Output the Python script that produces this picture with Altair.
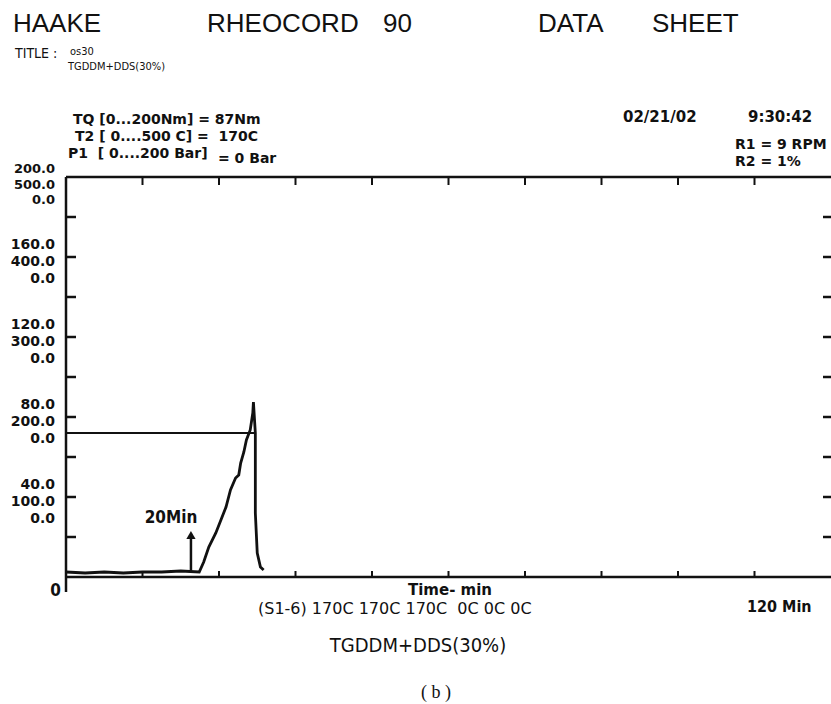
import altair as alt
import pandas as pd

# ---- data ----
time_min = [0, 3, 6, 9, 12, 15, 18, 20.9, 21.6, 22.4, 23.5, 24.3, 25.1, 25.8, 26.6,
            27.1, 27.4, 27.9, 28.3, 28.9, 29.3, 29.4, 29.7, 29.7, 30.0, 30.5, 31.0]
torque_nm = [2.5, 2, 2.5, 2, 2.5, 2.5, 3, 2.5, 7.5, 15, 22, 28.5, 35, 43.5, 49.5,
             51, 57, 62.5, 68.5, 73.5, 82, 87.5, 72, 32, 12, 5, 3.5]
marker_level = 72       # horizontal reference line (Nm)
marker_end = 29.7       # min
arrow_time = 19.6       # "20Min" arrow position (min)
arrow_from, arrow_to = 2.5, 21

tq_labels = ["200.0", "160.0", "120.0", "80.0", "40.0"]
t2_labels = ["500.0", "400.0", "300.0", "200.0", "100.0"]
p1_labels = ["0.0", "0.0", "0.0", "0.0", "0.0"]
label_vals = [200, 160, 120, 80, 40]
y_ticks = [20, 40, 60, 80, 100, 120, 140, 160, 180]
x_ticks = [12, 24, 36, 48, 60, 72, 84, 96, 108]

W, H = 765, 400
XS = alt.Scale(domain=[0, 120], nice=False, zero=False)
YS = alt.Scale(domain=[0, 200], nice=False, zero=False)
NARROW = "'DejaVu Sans Condensed', 'Liberation Sans Narrow', sans-serif"
WIDE = "'DejaVu Sans', sans-serif"
SANS = "'Liberation Sans', Arial, Helvetica, sans-serif"
SERIF = "'Liberation Serif', 'Times New Roman', serif"
NB = "\u00a0"

layers = []

def txt(s, x, y, size, weight="normal", font=NARROW, align="left"):
    return alt.Chart(pd.DataFrame({"t": [s]})).mark_text(
        font=font, fontSize=size, fontWeight=weight, align=align,
        baseline="alphabetic", color="#111"
    ).encode(x=alt.value(x), y=alt.value(y), text="t:N")

# frame
frame = pd.DataFrame({"x0": [0], "x1": [120], "y0": [0], "y1": [200]})
base_f = alt.Chart(frame)
layers.append(base_f.mark_rule(color="#111", strokeWidth=2.5).encode(
    x=alt.X("x0:Q", scale=XS, axis=None), x2="x1:Q", y=alt.Y("y1:Q", scale=YS, axis=None)))
layers.append(base_f.mark_rule(color="#111", strokeWidth=2.5).encode(
    x=alt.X("x0:Q", scale=XS, axis=None), x2="x1:Q", y=alt.Y("y0:Q", scale=YS, axis=None)))
layers.append(base_f.mark_rule(color="#111", strokeWidth=2.5).encode(
    x=alt.X("x0:Q", scale=XS, axis=None), y=alt.Y("y0:Q", scale=YS, axis=None), y2="y1:Q"))
layers.append(base_f.mark_rule(color="#111", strokeWidth=2.5).encode(
    x=alt.X("x0:Q", scale=XS, axis=None), y=alt.value(H), y2=alt.value(H + 15)))

# ticks
yt = alt.Chart(pd.DataFrame({"v": y_ticks}))
layers.append(yt.mark_rule(color="#111", strokeWidth=2.5).encode(
    y=alt.Y("v:Q", scale=YS, axis=None), x=alt.value(0), x2=alt.value(10)))
layers.append(yt.mark_rule(color="#111", strokeWidth=2.5).encode(
    y=alt.Y("v:Q", scale=YS, axis=None), x=alt.value(W - 8), x2=alt.value(W)))
xt = alt.Chart(pd.DataFrame({"v": x_ticks}))
layers.append(xt.mark_rule(color="#111", strokeWidth=2).encode(
    x=alt.X("v:Q", scale=XS, axis=None), y=alt.value(0), y2=alt.value(8)))
layers.append(xt.mark_rule(color="#111", strokeWidth=2).encode(
    x=alt.X("v:Q", scale=XS, axis=None), y=alt.value(H), y2=alt.value(H - 6)))

# y tick label stacks (torque / temperature / pressure)
lab = pd.DataFrame({"v": label_vals, "tq": tq_labels, "t2": t2_labels, "p1": p1_labels})
for col, dys in [("tq", (-8, -12)), ("t2", (7.5, 5)), ("p1", (23, 22))]:
    for sub, dy, fs in [(lab[lab.v == 200], dys[0], 13), (lab[lab.v != 200], dys[1], 14)]:
        layers.append(alt.Chart(sub).mark_text(
            font=WIDE, fontSize=fs, fontWeight="bold", align="right",
            baseline="middle", dy=dy, color="#111"
        ).encode(y=alt.Y("v:Q", scale=YS, axis=None), x=alt.value(-11), text=f"{col}:N"))

# horizontal marker
mk = pd.DataFrame({"a": [0], "b": [marker_end], "y": [marker_level]})
layers.append(alt.Chart(mk).mark_rule(color="#111", strokeWidth=1.8).encode(
    x=alt.X("a:Q", scale=XS, axis=None), x2="b:Q", y=alt.Y("y:Q", scale=YS, axis=None)))

# torque curve
curve = pd.DataFrame({"t": time_min, "tq": torque_nm, "i": range(len(time_min))})
layers.append(alt.Chart(curve).mark_line(color="#111", strokeWidth=2.8).encode(
    x=alt.X("t:Q", scale=XS, axis=None), y=alt.Y("tq:Q", scale=YS, axis=None), order="i:Q"))

# arrow
ar = pd.DataFrame({"x": [arrow_time], "y0": [arrow_from], "y1": [arrow_to]})
layers.append(alt.Chart(ar).mark_rule(color="#111", strokeWidth=2.5).encode(
    x=alt.X("x:Q", scale=XS, axis=None), y=alt.Y("y0:Q", scale=YS, axis=None), y2="y1:Q"))
layers.append(alt.Chart(ar).mark_point(shape="triangle-up", filled=True, color="#111",
                                       size=85, opacity=1).encode(
    x=alt.X("x:Q", scale=XS, axis=None), y=alt.Y("y1:Q", scale=YS, axis=None)))

# header and annotation texts
layers += [
    txt("HAAKE", -53, -145, 26, font=SANS),
    txt("RHEOCORD", 141, -145, 26, font=SANS),
    txt("90", 317, -145, 26, font=SANS),
    txt("DATA", 472, -145, 26, font=SANS),
    txt("SHEET", 586, -145, 26, font=SANS),
    txt("TITLE :", -51, -119, 14),
    txt("os30", 4, -122, 11),
    txt("TGDDM+DDS(30%)", 2, -107, 11),
    txt("TQ [0...200Nm] = 87Nm", 7, -53, 14, "bold", font=WIDE),
    txt("T2 [ 0....500 C] =" + NB + NB + "170C", 9, -36, 14, "bold", font=WIDE),
    txt("P1" + NB + NB + "[ 0....200 Bar]", 2, -19, 14, "bold", font=WIDE),
    txt("= 0 Bar", 152, -14, 14, "bold", font=WIDE),
    txt("02/21/02", 557, -55, 15, "bold", font=WIDE),
    txt("9:30:42", 682, -55, 15, "bold", font=WIDE),
    txt("R1 = 9 RPM", 669, -28, 14, "bold", font=WIDE),
    txt("R2 = 1%", 669, -11, 14, "bold", font=WIDE),
    txt("0", -5, 419, 17, "bold", align="right"),
    txt("20Min", 105, 346, 17, "bold", align="center"),
    txt("Time- min", 384, 418, 15, "bold", font=WIDE, align="center"),
    txt("(S1-6) 170C 170C 170C" + NB + NB + "0C 0C 0C", 192, 437, 16, font=WIDE),
    txt("120 Min", 681, 435, 16, "bold"),
    txt("TGDDM+DDS(30%)", 352, 475, 20, align="center"),
    txt("( b )", 370, 521, 18, font=SERIF, align="center"),
]

chart = alt.layer(*layers).properties(
    width=W, height=H,
    autosize=alt.AutoSizeParams(type="none"),
    padding={"left": 66, "top": 177, "right": 0, "bottom": 127},
    background="white",
).configure_view(stroke=None)

chart.save("out.html", embed_options={"renderer": "svg", "actions": False})
